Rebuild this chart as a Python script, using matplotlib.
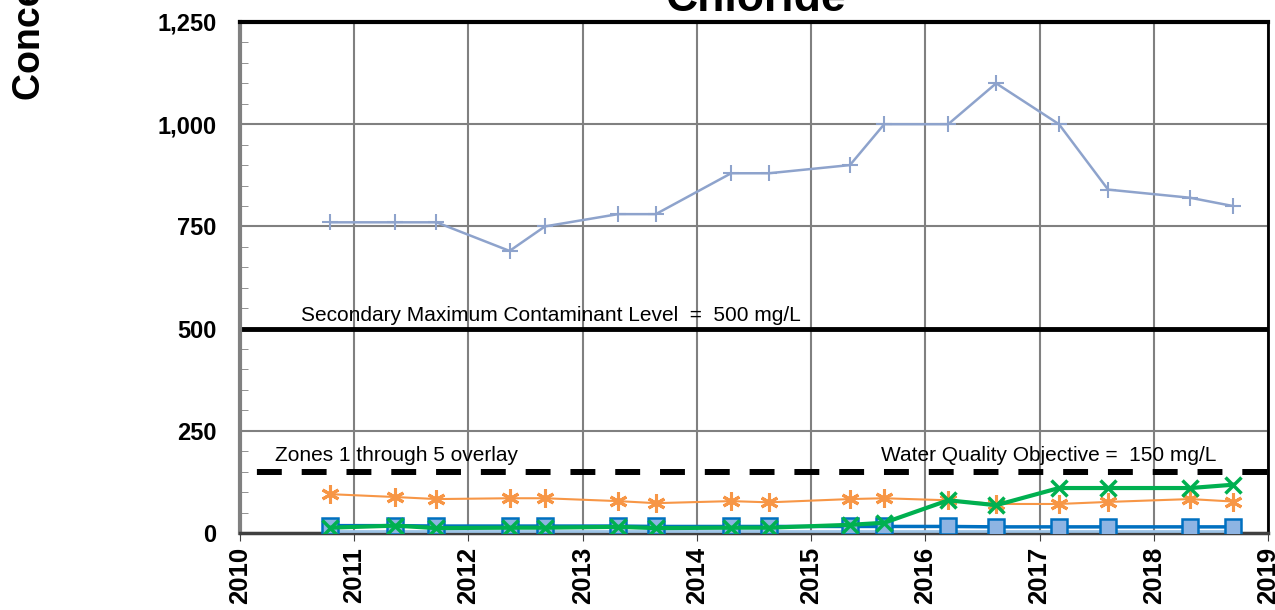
import matplotlib.pyplot as plt
from matplotlib.ticker import MultipleLocator, FuncFormatter

plt.rcParams['font.family'] = ['Liberation Sans', 'DejaVu Sans']

# sample dates as decimal years
dates = [2010.79, 2011.36, 2011.72, 2012.36, 2012.67, 2013.31, 2013.64, 2014.30,
         2014.63, 2015.34, 2015.64, 2016.20, 2016.62, 2017.17, 2017.60, 2018.32, 2018.69]

# chloride, mg/L
well_a = [760, 760, 760, 690, 750, 780, 780, 880, 880, 900, 1000, 1000, 1100, 1000, 840, 820, 800]
well_b = [95, 88, 83, 85, 85, 78, 73, 78, 75, 83, 85, 80, 71, 71, 76, 83, 77]
well_c = [13, 18, 12, 13, 13, 15, 12, 13, 13, 20, 25, 80, 68, 110, 110, 110, 118]
well_d = [18, 18, 17, 17, 17, 17, 16, 16, 16, 16, 16, 16, 15, 15, 15, 15, 15]
well_e = [6, 6, 6, 6, 6, 6, 6, 6, 6, 6, 6, 6, 6, 6, 6, 6, 6]

smcl = 500
wqo = 150
years = list(range(2010, 2020))

fig = plt.figure(figsize=(12.75, 6.1), dpi=100)
ax = fig.add_axes([240 / 1275, 1 - 533 / 610, 1028 / 1275, 511 / 610])

ax.set_xlim(2010, 2019)
ax.set_ylim(0, 1250)

ax.grid(True, which='major', color='#808080', lw=1.5, zorder=0)
ax.set_axisbelow(True)

ax.axhline(smcl, color='black', lw=3.5, zorder=2)
ax.axhline(wqo, color='black', lw=4.3, ls=(4.67, (4.17, 3.33)), zorder=2)

ax.plot(dates, well_a, color='#8EA3CC', lw=1.8, marker='+', ms=11, mew=1.5, zorder=3)
ax.plot(dates, well_b, color='#F79646', lw=1.5, marker=(6, 2, 0), ms=13, mew=2.2, zorder=3)
ax.plot(dates, well_e, color='#9DC3E6', lw=2, marker='o', ms=9, mfc='#9DC3E6',
        mec='#9DC3E6', zorder=3)
ax.plot(dates, well_d, color='#0070C0', lw=2.5, marker='s', ms=11, mfc='#8EB4E3',
        mec='#0070C0', mew=1.8, zorder=4)
ax.plot(dates, well_c, color='#00B050', lw=3, marker='x', ms=11, mew=2.5, zorder=5)

ax.text(2010.53, smcl + 8, 'Secondary Maximum Contaminant Level  =  500 mg/L',
        fontsize=15, va='bottom', ha='left')
ax.text(2010.31, wqo + 26, 'Zones 1 through 5 overlay', fontsize=15, va='baseline', ha='left')
ax.text(2018.55, wqo + 26, 'Water Quality Objective =  150 mg/L', fontsize=15,
        va='baseline', ha='right')

ax.set_xticks(years)
ax.set_xticklabels([str(y) for y in years], rotation=90, fontsize=18.5, fontweight='bold')
ax.yaxis.set_major_locator(MultipleLocator(250))
ax.yaxis.set_minor_locator(MultipleLocator(50))
ax.yaxis.set_major_formatter(FuncFormatter(lambda v, p: f'{int(v):,}'))
for lab in ax.get_yticklabels():
    lab.set_fontsize(17)
    lab.set_fontweight('bold')

ax.tick_params(axis='y', which='major', length=0, pad=17)
ax.tick_params(axis='y', which='minor', direction='in', length=6, color='#808080')
ax.tick_params(axis='x', which='major', direction='out', length=6, pad=4, color='#404040')

ax.spines['left'].set_color('#808080')
ax.spines['left'].set_linewidth(3)
ax.spines['top'].set_color('black')
ax.spines['top'].set_linewidth(3)
ax.spines['right'].set_color('black')
ax.spines['right'].set_linewidth(2)
ax.spines['bottom'].set_color('#404040')
ax.spines['bottom'].set_linewidth(2.5)

fig.text(755 / 1275, 1 - 11 / 610, 'Chloride', fontsize=32, fontweight='bold',
         ha='center', va='baseline')
fig.text(30 / 1275, 1 - 100 / 610, 'Concentration (mg/L)', fontsize=27, fontweight='bold',
         rotation=90, rotation_mode='anchor', ha='left', va='center')

fig.savefig('out.png', dpi=100)
